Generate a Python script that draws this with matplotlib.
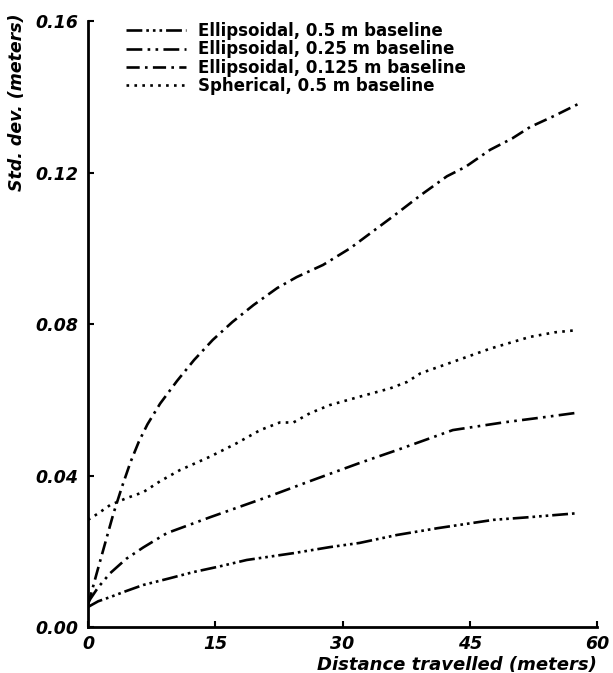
import matplotlib.pyplot as plt
import numpy as np

plt.rcParams['font.family'] = ['DejaVu Sans']

# Std. dev. (meters) vs distance travelled (meters)
x_e050 = [0, 1.2, 2.6, 4.5, 6.5, 9.5, 12.4, 15.5, 18.7, 24.2, 28.5, 32, 36.4,
          41.2, 47.8, 52, 57.4]
y_e050 = [0.0053, 0.0068, 0.0079, 0.0095, 0.0111, 0.0128, 0.0145, 0.0160,
          0.0177, 0.0195, 0.0211, 0.0222, 0.0243, 0.0261, 0.0283, 0.0290,
          0.0300]

x_e025 = [0, 1.2, 2.6, 4.5, 6.5, 9.3, 14.4, 21.1, 26.5, 32, 36.4, 43.0, 48.9,
          54.1, 57.4]
y_e025 = [0.0065, 0.0105, 0.0142, 0.0180, 0.0210, 0.0248, 0.0290, 0.0343,
          0.0388, 0.0433, 0.0467, 0.0520, 0.0540, 0.0555, 0.0565]

x_e0125 = [0, 1, 2, 3, 4, 5, 6, 7, 8.5, 10.5, 12.5, 14.7, 17, 19.5, 22.3,
           24.6, 27.7, 30.9, 33.3, 36, 39.2, 42.3, 44.5, 47.4, 50, 52.1,
           55, 57.7]
y_e0125 = [0.0058, 0.0140, 0.0220, 0.0300, 0.0370, 0.0435, 0.0490, 0.0535,
           0.0590, 0.0650, 0.0705, 0.0758, 0.0805, 0.0850, 0.0895, 0.0924,
           0.0956, 0.1000, 0.1040, 0.1085, 0.1140, 0.1190, 0.1215, 0.1260,
           0.1290, 0.1320, 0.1350, 0.1380]

x_sph = [0, 1.2, 2.6, 4.5, 6.5, 8.5, 10.8, 14.4, 17.5, 20.3, 22.6, 24.2,
         26.2, 28.5, 32, 35.6, 37.6, 39.2, 43, 47.4, 52.1, 55, 57.7]
y_sph = [0.0283, 0.0300, 0.0322, 0.0340, 0.0356, 0.0385, 0.0414, 0.0450,
         0.0485, 0.0520, 0.0540, 0.0540, 0.0565, 0.0586, 0.0608, 0.0630,
         0.0647, 0.0670, 0.0700, 0.0735, 0.0766, 0.0778, 0.0784]

labels = ['Ellipsoidal, 0.5 m baseline', 'Ellipsoidal, 0.25 m baseline',
          'Ellipsoidal, 0.125 m baseline', 'Spherical, 0.5 m baseline']
x_ticks = [0, 15, 30, 45, 60]
y_ticks = [0.00, 0.04, 0.08, 0.12, 0.16]

fig = plt.figure(figsize=(6.13, 6.73), dpi=100)
ax = fig.add_axes([0.1436, 0.0683, 0.8304, 0.9005])

lw = 1.9
ax.plot(x_e050, y_e050, color='black', lw=lw, label=labels[0],
        dashes=(6, 1.5, 1, 1.5, 1, 1.5, 1, 1.5))
ax.plot(x_e025, y_e025, color='black', lw=lw, label=labels[1],
        dashes=(6, 2, 1, 2, 1, 2))
ax.plot(x_e0125, y_e0125, color='black', lw=lw, label=labels[2],
        dashes=(5, 2, 1, 2))
ax.plot(x_sph, y_sph, color='black', lw=lw, label=labels[3],
        dashes=(1, 2))

ax.set_xlim(0, 60)
ax.set_ylim(0, 0.16)
ax.set_xticks(x_ticks)
ax.set_yticks(y_ticks)
ax.set_xticklabels([str(v) for v in x_ticks], fontstyle='italic',
                   fontweight='bold', fontsize=12.5)
ax.set_yticklabels(['%.2f' % v for v in y_ticks], fontstyle='italic',
                   fontweight='bold', fontsize=12.5)
ax.tick_params(direction='in', length=4, width=1.5)
ax.tick_params(axis='y', pad=7)
ax.tick_params(axis='x', pad=6)

for side in ['top', 'right']:
    ax.spines[side].set_visible(False)
for side in ['left', 'bottom']:
    ax.spines[side].set_linewidth(2)

ax.set_xlabel('Distance travelled (meters)', fontstyle='italic',
              fontweight='bold', fontsize=13)
ax.xaxis.set_label_coords(1.0, -0.048)
ax.xaxis.label.set_horizontalalignment('right')
ax.set_ylabel('Std. dev. (meters)', fontstyle='italic', fontweight='bold',
              fontsize=12.5)
ax.yaxis.set_label_coords(-0.158, 1.013)
ax.yaxis.label.set_verticalalignment('top')
ax.yaxis.label.set_horizontalalignment('right')

ax.legend(loc='upper left', bbox_to_anchor=(0.045, 1.023), frameon=False,
          handlelength=3.6, handletextpad=0.7, labelspacing=0.02,
          prop={'weight': 'bold', 'size': 12})

fig.savefig('out.png', dpi=100)
plt.close()
